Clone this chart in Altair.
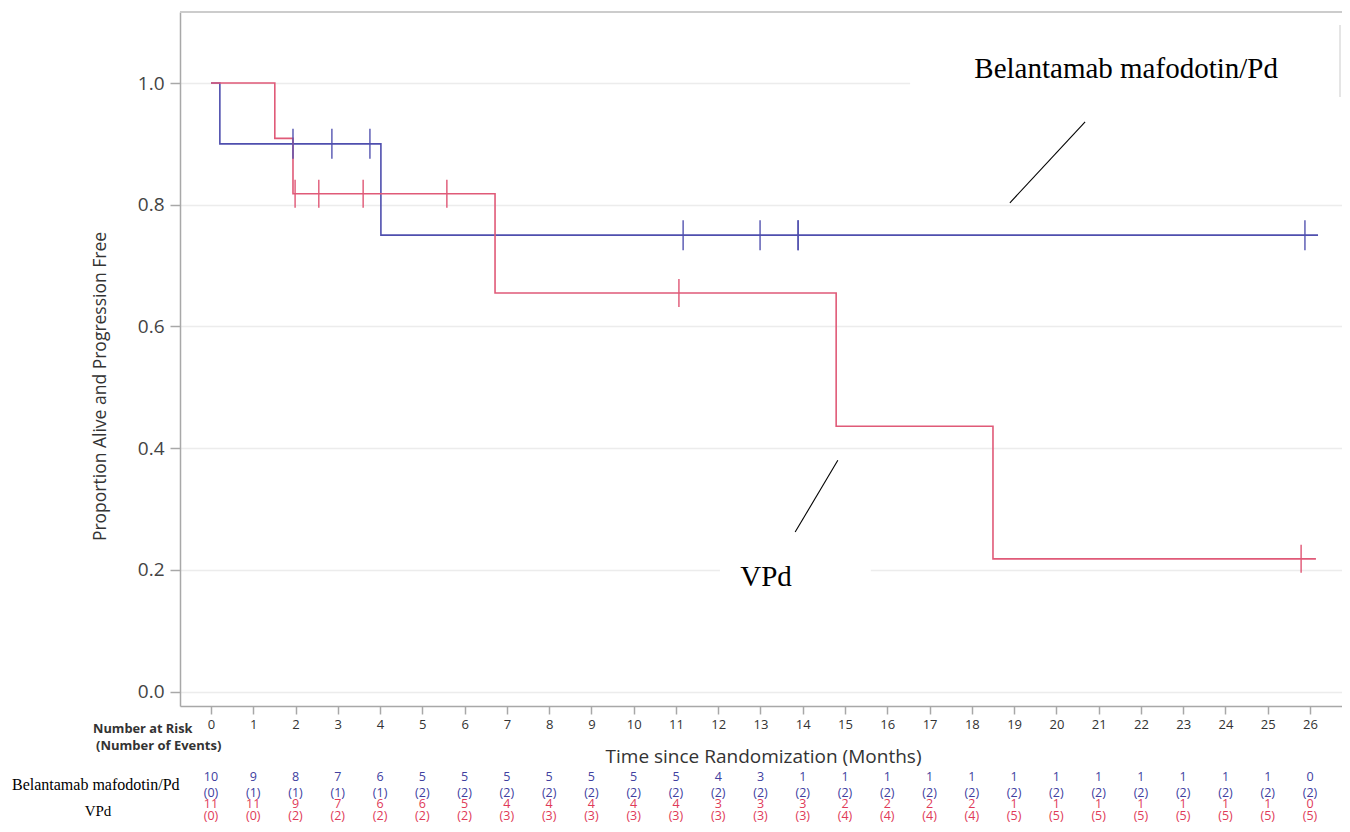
import altair as alt
import pandas as pd

# ---------------- data ----------------
# Kaplan-Meier step points (time in months, proportion)
belan_t = [0, 0.21, 4.02, 26.19]
belan_s = [1.0, 0.9, 0.75, 0.75]
vpd_t = [0, 1.51, 1.94, 6.72, 14.79, 18.5, 26.14]
vpd_s = [1.0, 0.909, 0.818, 0.655, 0.436, 0.218, 0.218]

# censor marks
belan_cens_t = [1.94, 2.86, 3.76, 11.17, 12.99, 13.89, 13.89, 25.88]
belan_cens_s = [0.9, 0.9, 0.9, 0.75, 0.75, 0.75, 0.75, 0.75]
vpd_cens_t = [1.99, 2.55, 3.6, 5.58, 11.07, 25.79]
vpd_cens_s = [0.818, 0.818, 0.818, 0.818, 0.655, 0.218]

# number at risk table
months = list(range(27))
belan_risk = [10, 9, 8, 7, 6, 5, 5, 5, 5, 5, 5, 5, 4, 3, 1, 1, 1, 1, 1, 1, 1, 1, 1, 1, 1, 1, 0]
belan_events = [0, 1, 1, 1, 1, 2, 2, 2, 2, 2, 2, 2, 2, 2, 2, 2, 2, 2, 2, 2, 2, 2, 2, 2, 2, 2, 2]
vpd_risk = [11, 11, 9, 7, 6, 6, 5, 4, 4, 4, 4, 4, 3, 3, 3, 2, 2, 2, 2, 1, 1, 1, 1, 1, 1, 1, 0]
vpd_events = [0, 0, 2, 2, 2, 2, 2, 3, 3, 3, 3, 3, 3, 3, 3, 4, 4, 4, 4, 5, 5, 5, 5, 5, 5, 5, 5]

# annotations (data coordinates)
label_names = ["Belantamab mafodotin/Pd", "VPd"]
label_t = [21.65, 13.13]
label_s = [1.009, 0.173]
leader_t1 = [20.68, 14.83]
leader_s1 = [0.936, 0.380]
leader_t2 = [18.90, 13.82]
leader_s2 = [0.803, 0.262]
# white backgrounds behind the in-plot labels
bg_t1 = [16.54, 12.04]
bg_t2 = [26.85, 15.61]
bg_s1 = [0.976, 0.19]
bg_s2 = [1.094, 0.21]

y_ticks = [0.0, 0.2, 0.4, 0.6, 0.8, 1.0]

# ---------------- styling ----------------
BLUE = "#4f4fae"
RED = "#e05a78"
BLUE_TXT = "#4040a0"
RED_TXT = "#e03a58"
SANS = "Open Sans"
SERIF = "Liberation Serif"
W, H = 1162, 694
PX_PER_MONTH = 42.27
X0 = -0.733

xscale = alt.Scale(domain=[X0, X0 + W / PX_PER_MONTH], nice=False, zero=False, padding=0)
yscale = alt.Scale(domain=[-0.0238, 1.1167], nice=False, zero=False, padding=0)

xaxis = alt.Axis(values=months, title="Time since Randomization (Months)",
                 grid=False, domainColor="#a8a8a8", domainWidth=1.5,
                 tickColor="#a8a8a8", tickSize=8, tickWidth=1.5,
                 labelFont=SANS, labelFontSize=13, labelColor="#333333",
                 labelPadding=4, labelFlush=False, labelOverlap=False,
                 titleFont=SANS, titleFontSize=19, titleFontWeight="normal",
                 titleColor="#333333", titleX=583, titleY=50, titleBaseline="middle")
yaxis = alt.Axis(values=y_ticks, format=".1f",
                 title="Proportion Alive and Progression Free",
                 grid=True, gridColor="#ececec", gridWidth=1.5,
                 domainColor="#a8a8a8", domainWidth=1.5,
                 tickColor="#a8a8a8", tickSize=10, tickWidth=1.5,
                 labelFont=SANS, labelFontSize=19, labelColor="#444444",
                 labelPadding=6,
                 titleFont=SANS, titleFontSize=17.5, titleFontWeight="normal",
                 titleColor="#333333", titleAngle=270, titleX=-80, titleY=374,
                 titleBaseline="middle", titleAlign="center")


def X(field):
    return alt.X(field, type="quantitative", scale=xscale, axis=xaxis)


def Y(field):
    return alt.Y(field, type="quantitative", scale=yscale, axis=yaxis)


belan_df = pd.DataFrame({"t": belan_t, "s": belan_s})
vpd_df = pd.DataFrame({"t": vpd_t, "s": vpd_s})
bc_df = pd.DataFrame({"t": belan_cens_t, "s": belan_cens_s})
vc_df = pd.DataFrame({"t": vpd_cens_t, "s": vpd_cens_s})
risk_df = pd.DataFrame({
    "t": months,
    "bn": [str(v) for v in belan_risk],
    "be": [f"({v})" for v in belan_events],
    "vn": [str(v) for v in vpd_risk],
    "ve": [f"({v})" for v in vpd_events],
})
lab_df = pd.DataFrame({"name": label_names, "t": label_t, "s": label_s})
lead_df = pd.DataFrame({"t": leader_t1, "s": leader_s1, "t2": leader_t2, "s2": leader_s2})
bg_df = pd.DataFrame({"t": bg_t1, "t2": bg_t2, "s": bg_s1, "s2": bg_s2})

frame = alt.Chart(pd.DataFrame({"k": [0]})).mark_rule(color="#cccccc", strokeWidth=2).encode(
    x=alt.value(0), x2=alt.value(W), y=alt.value(0))
box_edge = alt.Chart(pd.DataFrame({"k": [0]})).mark_rule(color="#dddddd", strokeWidth=1.5).encode(
    x=alt.value(W - 2), y=alt.value(13), y2=alt.value(85))

bg = alt.Chart(bg_df).mark_rect(color="white").encode(
    x=X("t"), x2="t2", y=Y("s"), y2="s2")

belan_line = alt.Chart(belan_df).mark_line(interpolate="step-after", color=BLUE, strokeWidth=1.6).encode(
    x=X("t"), y=Y("s"))
vpd_line = alt.Chart(vpd_df).mark_line(interpolate="step-after", color=RED, strokeWidth=1.6).encode(
    x=X("t"), y=Y("s"))
belan_c = alt.Chart(bc_df).mark_tick(orient="vertical", size=30, thickness=1.6, color=BLUE, opacity=0.85).encode(
    x=X("t"), y=Y("s"))
vpd_c = alt.Chart(vc_df).mark_tick(orient="vertical", size=28, thickness=1.6, color=RED, opacity=0.9).encode(
    x=X("t"), y=Y("s"))

leaders = alt.Chart(lead_df).mark_rule(color="black", strokeWidth=1.1).encode(
    x=X("t"), x2="t2", y=Y("s"), y2="s2")
labels = alt.Chart(lab_df).mark_text(font=SERIF, fontSize=29, color="black",
                                     align="center", baseline="alphabetic").encode(
    x=X("t"), y=Y("s"), text="name:N")


def risk_row(col, ypix, color):
    return alt.Chart(risk_df).mark_text(font=SANS, fontSize=12.5, color=color,
                                        align="center", baseline="middle").encode(
        x=X("t"), y=alt.value(ypix), text=f"{col}:N")


rows = [risk_row("bn", 765, BLUE_TXT), risk_row("be", 781, BLUE_TXT),
        risk_row("vn", 792, RED_TXT), risk_row("ve", 804, RED_TXT)]

head1 = alt.Chart(pd.DataFrame({"txt": ["Number at Risk"]})).mark_text(
    font=SANS, fontSize=12.8, fontWeight="bold", color="#333333", align="left",
    baseline="alphabetic").encode(x=alt.value(-87), y=alt.value(721), text="txt:N")
head2 = alt.Chart(pd.DataFrame({"txt": ["(Number of Events)"]})).mark_text(
    font=SANS, fontSize=13, fontWeight="bold", color="#333333", align="left",
    baseline="alphabetic").encode(x=alt.value(-84), y=alt.value(738), text="txt:N")
grp1 = alt.Chart(pd.DataFrame({"txt": [label_names[0]]})).mark_text(
    font=SERIF, fontSize=16, color="black", align="left", baseline="alphabetic").encode(
    x=alt.value(-168), y=alt.value(778), text="txt:N")
grp2 = alt.Chart(pd.DataFrame({"txt": [label_names[1]]})).mark_text(
    font=SERIF, fontSize=15, color="black", align="center", baseline="alphabetic").encode(
    x=alt.value(-82), y=alt.value(804), text="txt:N")

chart = alt.layer(
    bg, frame, box_edge, belan_line, vpd_line, belan_c, vpd_c, leaders, labels,
    *rows, head1, head2, grp1, grp2
).properties(
    width=W, height=H,
    autosize=alt.AutoSizeParams(type="none"),
    padding={"left": 172, "top": 4, "right": 0, "bottom": 118},
).configure_view(stroke=None)

chart.save("out.html", embed_options={"renderer": "svg", "actions": False})
